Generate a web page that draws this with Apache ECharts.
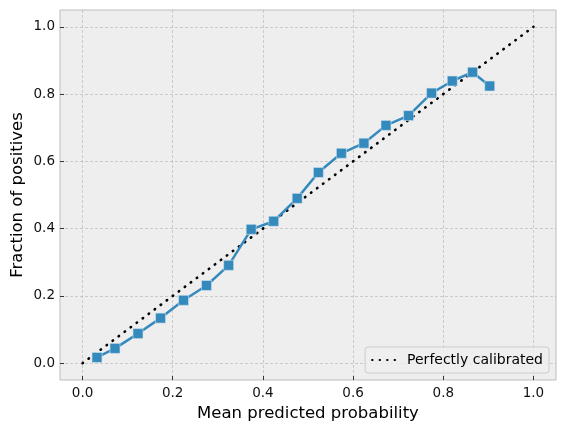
<!DOCTYPE html>
<html>
<head>
<meta charset="utf-8">
<script src="https://cdn.jsdelivr.net/npm/echarts@6/dist/echarts.min.js"></script>
<style>
  html, body { margin: 0; padding: 0; background: #fff; }
  #main { width: 566px; height: 432px; }
</style>
</head>
<body>
<div id="main"></div>
<script>
// mean predicted probability per bin
var meanPred = [0.032, 0.072, 0.123, 0.173, 0.224, 0.275, 0.324, 0.374, 0.424, 0.476,
  0.523, 0.574, 0.624, 0.673, 0.723, 0.774, 0.820, 0.865, 0.903];
// fraction of positives per bin
var fracPos = [0.017, 0.044, 0.088, 0.134, 0.187, 0.231, 0.291, 0.398, 0.422, 0.490,
  0.567, 0.624, 0.654, 0.707, 0.736, 0.803, 0.839, 0.865, 0.824];
// reference diagonal
var perfectX = [0, 1];
var perfectY = [0, 1];
var tickValues = [0, 0.2, 0.4, 0.6, 0.8, 1.0];

var font = 'DejaVu Sans';
var chart = echarts.init(document.getElementById('main'));

function axisCommon(name) {
  return {
    type: 'value',
    min: -0.05,
    max: 1.05,
    name: name,
    nameLocation: 'middle',
    nameMoveOverlap: false,
    nameTextStyle: { fontFamily: font, fontSize: 16.5, color: '#000' },
    axisLine: { show: false, onZero: false },
    axisTick: { show: true, inside: true, length: 4, lineStyle: { color: '#333', width: 1 }, customValues: tickValues },
    axisLabel: {
      customValues: tickValues,
      fontFamily: font, fontSize: 13.5, color: '#111',
      formatter: function (v) { return v.toFixed(1); }
    },
    splitLine: { show: true, lineStyle: { color: '#b2b2b2', type: [3, 2], width: 0.6 } }
  };
}

var xAxis = axisCommon('Mean predicted probability');
xAxis.nameGap = 25;
xAxis.axisLabel.margin = 6;
var yAxis = axisCommon('Fraction of positives');
yAxis.nameGap = 34;
yAxis.axisLabel.margin = 5;

chart.setOption({
  animation: false,
  grid: {
    left: 60, right: 10, top: 10, bottom: 52,
    outerBoundsMode: 'none',
    containLabel: false,
    show: true, backgroundColor: '#eeeeee', borderColor: '#bcbcbc', borderWidth: 1
  },
  xAxis: xAxis,
  yAxis: yAxis,
  legend: {
    data: [{ name: 'Perfectly calibrated', itemStyle: { opacity: 0 } }],
    right: 17, bottom: 59,
    itemWidth: 30, itemHeight: 10, itemGap: 8,
    padding: [6, 6, 6, 6],
    backgroundColor: 'rgba(238,238,238,0.85)',
    borderColor: '#cccccc', borderWidth: 1, borderRadius: 3,
    textStyle: { fontFamily: font, fontSize: 14, color: '#000' }
  },
  series: [
    {
      name: 'Perfectly calibrated',
      type: 'line',
      data: perfectX.map(function (x, i) { return [x, perfectY[i]]; }),
      showSymbol: false,
      symbol: 'none',
      lineStyle: { color: '#000', width: 2.6, type: [0.5, 7], cap: 'round' },
      itemStyle: { color: '#000' },
      z: 3
    },
    {
      name: 'calibration',
      type: 'line',
      data: meanPred.map(function (x, i) { return [x, fracPos[i]]; }),
      symbol: 'rect',
      symbolSize: 10,
      lineStyle: { color: '#348ABD', width: 2.5 },
      itemStyle: { color: '#348ABD', borderColor: '#d6e4ee', borderWidth: 0.6 },
      z: 4
    }
  ]
});
</script>
</body>
</html>
